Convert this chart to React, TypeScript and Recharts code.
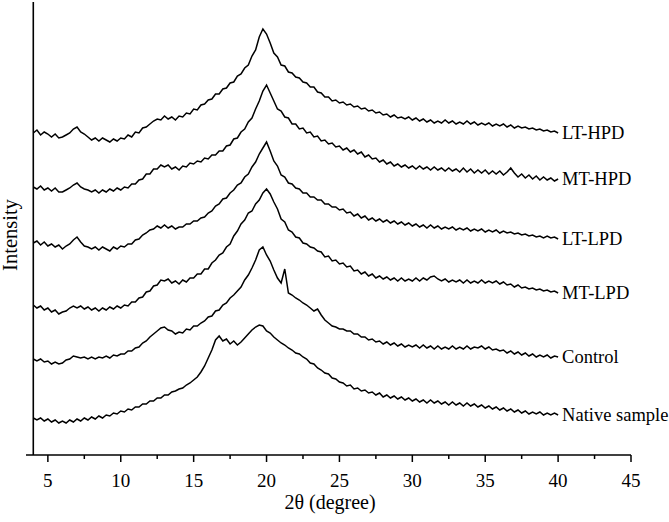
import React from 'react';
import { LineChart, Line, XAxis, YAxis, ReferenceLine } from 'recharts';

const FONT = '"Liberation Serif", "Times New Roman", serif';

// 2θ sampled every 0.25° from 4 to 40
const twoTheta = Array.from({ length: 145 }, (_, i) => 4 + i * 0.25);

const X_TICKS = [5, 7.5, 10, 12.5, 15, 17.5, 20, 22.5, 25, 27.5, 30, 32.5, 35, 37.5, 40, 42.5, 45];

// stacked intensities (a.u., offsets included)
const LT_HPD = [
  322, 325, 320, 323, 321, 318, 321, 317,
  318, 320, 322, 326, 328, 323, 321, 318,
  315, 317, 314, 317, 315, 313, 316, 314,
  317, 316, 320, 318, 323, 322, 327, 328,
  331, 334, 336, 335, 339, 336, 338, 335,
  339, 338, 342, 341, 346, 345, 350, 351,
  355, 356, 361, 361, 366, 367, 372, 373,
  379, 381, 387, 390, 399, 405, 418, 426,
  421, 412, 402, 398, 390, 389, 383, 382,
  378, 377, 373, 372, 368, 368, 363, 362,
  358, 358, 354, 355, 352, 353, 350, 351,
  348, 349, 346, 347, 344, 345, 342, 343,
  340, 341, 338, 340, 337, 338, 336, 338,
  335, 337, 334, 336, 333, 335, 332, 334,
  332, 335, 332, 334, 331, 333, 331, 334,
  331, 333, 330, 332, 330, 332, 329, 331,
  329, 331, 328, 330, 327, 329, 327, 328,
  326, 327, 325, 326, 324, 325, 323, 324,
  322,
];

const MT_HPD = [
  268, 266, 269, 265, 267, 264, 267, 263,
  263, 265, 267, 270, 272, 268, 266, 265,
  263, 265, 262, 265, 263, 266, 264, 267,
  265, 268, 267, 271, 271, 275, 276, 281,
  281, 286, 286, 290, 288, 290, 286, 288,
  285, 289, 288, 292, 291, 294, 293, 297,
  296, 300, 300, 304, 304, 309, 310, 316,
  317, 323, 326, 333, 337, 346, 354, 364,
  370, 362, 354, 346, 344, 338, 337, 331,
  331, 326, 327, 322, 323, 318, 319, 314,
  315, 311, 312, 308, 309, 305, 307, 303,
  305, 301, 303, 298, 300, 296, 297, 293,
  295, 291, 293, 289, 291, 288, 290, 287,
  289, 286, 289, 286, 288, 285, 288, 285,
  287, 284, 287, 284, 286, 283, 287, 283,
  286, 282, 285, 282, 285, 281, 284, 281,
  284, 280, 283, 287, 282, 278, 281, 277,
  280, 276, 279, 275, 278, 275, 277, 274,
  276,
];

const LT_LPD = [
  212, 214, 210, 213, 209, 211, 208, 210,
  206, 209, 211, 215, 218, 213, 209, 208,
  206, 208, 205, 208, 206, 204, 208, 206,
  209, 208, 211, 211, 215, 216, 220, 222,
  225, 226, 229, 227, 230, 227, 229, 226,
  228, 228, 231, 231, 234, 234, 237, 238,
  242, 244, 249, 251, 256, 257, 262, 265,
  270, 272, 278, 281, 288, 293, 301, 307,
  313, 304, 294, 289, 280, 278, 272, 271,
  267, 266, 262, 262, 258, 258, 255, 255,
  251, 251, 248, 248, 245, 246, 242, 243,
  239, 241, 237, 239, 235, 237, 234, 236,
  233, 235, 232, 234, 231, 233, 230, 232,
  229, 231, 228, 230, 227, 230, 227, 229,
  226, 228, 226, 228, 225, 227, 225, 227,
  224, 226, 224, 226, 223, 225, 223, 225,
  222, 224, 222, 223, 221, 222, 220, 221,
  219, 220, 218, 219, 217, 219, 217, 218,
  216,
];

const MT_LPD = [
  150, 147, 149, 145, 147, 143, 145, 141,
  143, 144, 147, 149, 147, 149, 146, 148,
  145, 147, 144, 147, 145, 148, 146, 149,
  147, 150, 149, 153, 153, 157, 158, 163,
  164, 169, 170, 175, 174, 176, 172, 174,
  171, 175, 173, 177, 177, 181, 181, 186,
  186, 192, 195, 200, 202, 208, 211, 219,
  224, 231, 235, 242, 244, 251, 255, 262,
  266, 261, 253, 246, 236, 233, 225, 223,
  218, 217, 212, 211, 208, 207, 204, 203,
  198, 199, 194, 195, 191, 192, 188, 189,
  184, 185, 181, 183, 179, 181, 177, 179,
  176, 178, 175, 177, 174, 177, 174, 176,
  174, 177, 174, 177, 175, 178, 179, 176,
  174, 176, 173, 175, 173, 175, 172, 175,
  172, 174, 172, 175, 172, 174, 172, 174,
  171, 173, 170, 171, 168, 170, 167, 168,
  166, 167, 165, 166, 164, 165, 163, 164,
  162,
];

const CONTROL = [
  96, 94, 96, 93, 94, 91, 93, 91,
  92, 95, 96, 99, 98, 97, 98, 96,
  98, 96, 98, 97, 99, 97, 100, 99,
  101, 101, 104, 104, 107, 108, 112, 114,
  118, 121, 124, 127, 128, 125, 124, 121,
  123, 122, 126, 125, 129, 129, 132, 134,
  138, 139, 144, 145, 150, 152, 157, 160,
  164, 168, 175, 180, 187, 195, 205, 208,
  200, 194, 185, 177, 172, 186, 162, 160,
  157, 155, 152, 150, 147, 144, 146, 140,
  135, 132, 129, 128, 126, 126, 124, 124,
  121, 121, 118, 118, 115, 116, 113, 114,
  111, 113, 110, 112, 109, 111, 108, 110,
  108, 110, 107, 110, 107, 109, 106, 109,
  106, 108, 106, 109, 106, 108, 106, 109,
  106, 108, 107, 109, 106, 108, 105, 106,
  104, 105, 102, 104, 101, 103, 100, 102,
  99, 101, 98, 100, 98, 100, 97, 99,
  98,
];

const NATIVE = [
  37, 35, 37, 34, 36, 33, 35, 32,
  34, 32, 35, 33, 36, 34, 37, 35,
  38, 36, 39, 37, 40, 39, 42, 41,
  44, 43, 46, 45, 48, 48, 51, 51,
  54, 54, 57, 57, 60, 60, 63, 64,
  66, 67, 70, 72, 75, 78, 83, 89,
  97, 105, 115, 119, 114, 116, 111, 114,
  110, 113, 117, 121, 125, 128, 130, 129,
  124, 122, 118, 115, 112, 110, 107, 105,
  102, 101, 98, 96, 92, 91, 87, 85,
  82, 81, 77, 76, 73, 72, 69, 70,
  66, 67, 64, 65, 62, 63, 60, 62,
  58, 60, 57, 59, 56, 58, 55, 57,
  54, 56, 53, 55, 52, 55, 52, 54,
  51, 53, 50, 53, 50, 52, 49, 52,
  49, 51, 48, 50, 47, 49, 46, 48,
  45, 47, 44, 46, 43, 45, 42, 44,
  41, 43, 41, 43, 40, 42, 40, 42,
  40,
];

const SERIES = [
  { key: 'ltHpd', name: 'LT-HPD', values: LT_HPD },
  { key: 'mtHpd', name: 'MT-HPD', values: MT_HPD },
  { key: 'ltLpd', name: 'LT-LPD', values: LT_LPD },
  { key: 'mtLpd', name: 'MT-LPD', values: MT_LPD },
  { key: 'control', name: 'Control', values: CONTROL },
  { key: 'native', name: 'Native sample', values: NATIVE },
];

const data = twoTheta.map((t, i) => {
  const row: Record<string, number> = { t };
  SERIES.forEach((s) => {
    row[s.key] = s.values[i];
  });
  return row;
});

const LAST = twoTheta.length - 1;

const XTick = (props: any) => {
  const { x, y, payload } = props;
  const major = payload.value % 5 === 0;
  return (
    <g>
      <line x1={x} y1={y} x2={x} y2={y + (major ? 7 : 4)} stroke="#000" strokeWidth={1.5} />
      {major && (
        <text x={x} y={y + 32} textAnchor="middle" fontSize={19} fontFamily={FONT} fill="#000">
          {payload.value}
        </text>
      )}
    </g>
  );
};

const endLabel = (name: string) => (props: any) => {
  const { cx, cy, index } = props;
  if (index !== LAST) return <g key={`d-${index}`} />;
  return (
    <text
      key={`lbl-${name}`}
      x={cx + 4}
      y={cy}
      dominantBaseline="central"
      fontSize={18.5}
      fontFamily={FONT}
      fill="#000"
    >
      {name}
    </text>
  );
};

const IntensityLabel = () => (
  <text
    x={17}
    y={235}
    transform="rotate(-90, 17, 235)"
    textAnchor="middle"
    fontSize={20.5}
    fontFamily={FONT}
    fill="#000"
  >
    Intensity
  </text>
);

const AxisTitle = () => (
  <text x={330} y={509} textAnchor="middle" fontSize={20} fontFamily={FONT} fill="#000">
    2θ (degree)
  </text>
);

export default function App() {
  return (
    <div style={{ position: 'fixed', left: 0, top: 0, width: 669, height: 522, background: '#fff' }}>
      <LineChart width={669} height={522} data={data} margin={{ top: 2, right: 38, bottom: 7, left: 0 }}>
        <XAxis
          dataKey="t"
          type="number"
          domain={[3.5, 45]}
          ticks={X_TICKS}
          interval={0}
          height={60}
          tickSize={0}
          tickMargin={0}
          tickLine={false}
          tick={<XTick />}
          axisLine={{ stroke: '#000', strokeWidth: 1.6 }}
          label={{ content: AxisTitle }}
        />
        <YAxis
          type="number"
          domain={[0, 453]}
          width={26}
          axisLine={false}
          tickLine={false}
          tick={false}
          label={{ content: IntensityLabel }}
        />
        <ReferenceLine x={4} stroke="#000" strokeWidth={1.6} />
        {SERIES.map((s) => (
          <Line
            key={s.key}
            dataKey={s.key}
            type="linear"
            stroke="#000"
            strokeWidth={1.5}
            dot={endLabel(s.name)}
            activeDot={false}
            isAnimationActive={false}
          />
        ))}
      </LineChart>
    </div>
  );
}
